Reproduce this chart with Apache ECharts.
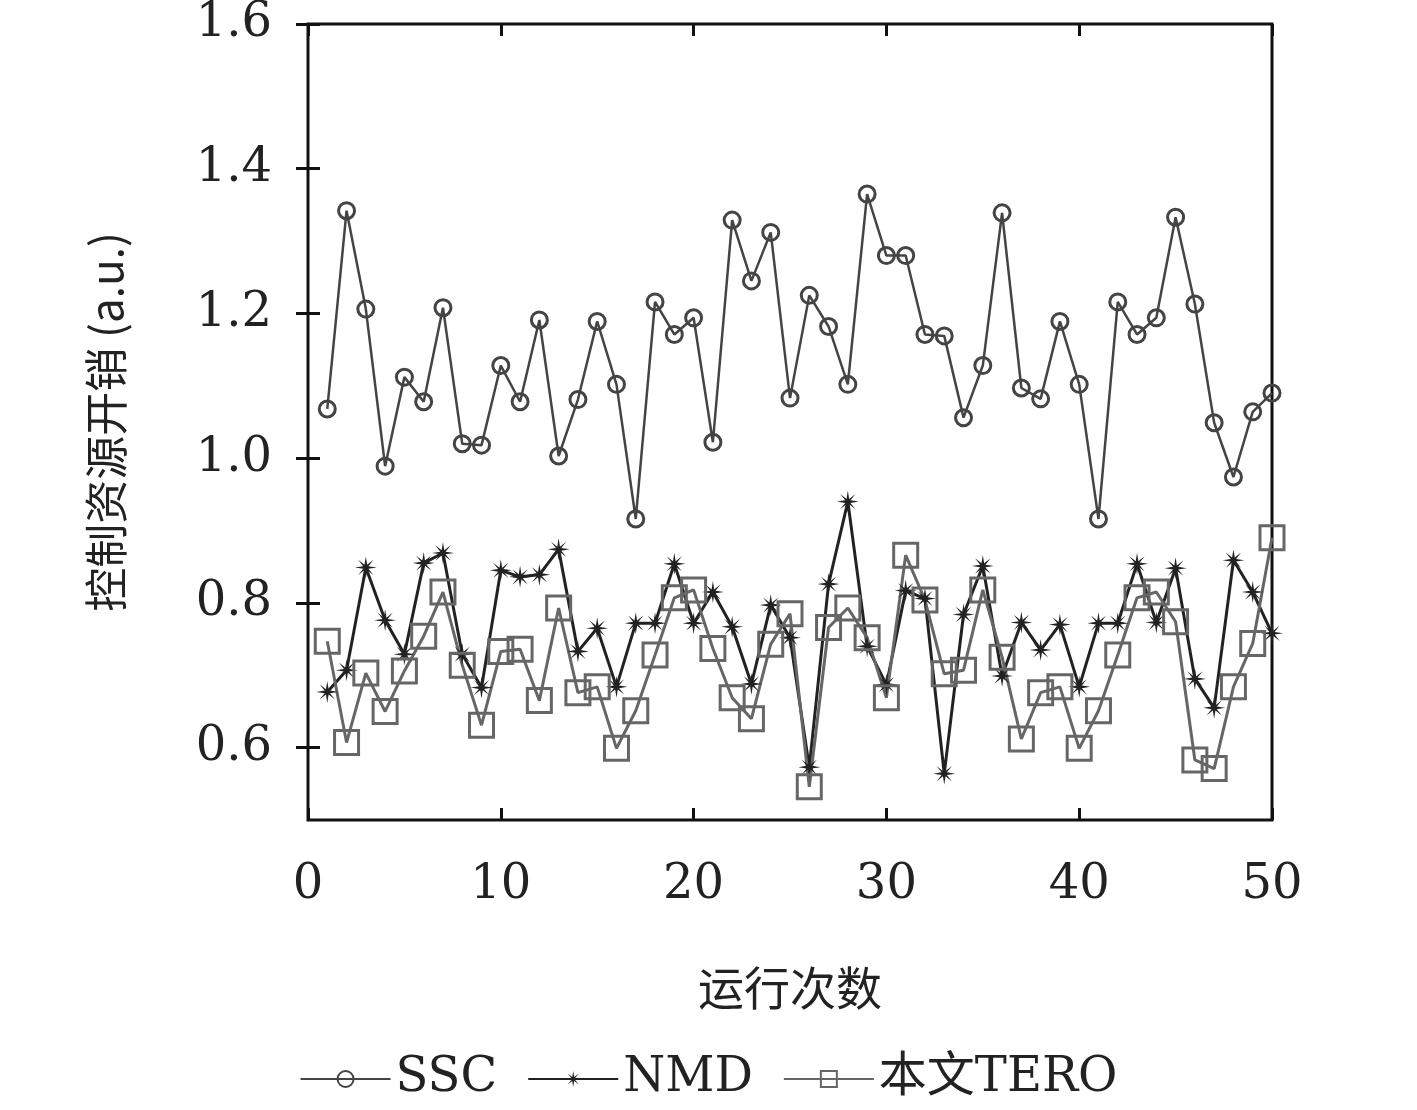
<!DOCTYPE html>
<html>
<head>
<meta charset="utf-8">
<script src="https://cdn.jsdelivr.net/npm/echarts@6/dist/echarts.min.js"></script>
<style>html,body{margin:0;background:#fff}#c{width:1417px;height:1110px}</style>
</head>
<body>
<div id="c"></div>
<script>
const runs = Array.from({length: 50}, (_, i) => i + 1);
const ssc = [1.068,1.342,1.206,0.989,1.112,1.078,1.208,1.020,1.018,1.128,1.078,1.191,1.003,1.081,1.189,1.102,0.916,1.216,1.171,1.194,
  1.022,1.329,1.245,1.312,1.083,1.225,1.182,1.102,1.365,1.280,1.280,1.171,1.169,1.056,1.128,1.339,1.097,1.082,1.189,1.102,
  0.916,1.216,1.171,1.194,1.333,1.213,1.049,0.974,1.064,1.090];
const nmd = [0.677,0.707,0.849,0.776,0.729,0.855,0.869,0.729,0.683,0.845,0.836,0.839,0.874,0.733,0.765,0.684,0.772,0.772,0.854,0.772,
  0.815,0.767,0.688,0.797,0.752,0.573,0.826,0.940,0.740,0.687,0.817,0.806,0.564,0.784,0.851,0.699,0.773,0.735,0.770,0.684,
  0.772,0.772,0.854,0.773,0.848,0.695,0.655,0.859,0.815,0.758];
const tero = [0.747,0.607,0.703,0.650,0.706,0.754,0.815,0.714,0.631,0.733,0.736,0.665,0.793,0.676,0.684,0.599,0.651,0.728,0.807,0.818,
  0.737,0.669,0.640,0.743,0.785,0.546,0.766,0.793,0.752,0.669,0.866,0.804,0.702,0.707,0.818,0.725,0.612,0.676,0.684,0.599,
  0.651,0.728,0.807,0.815,0.774,0.583,0.571,0.684,0.744,0.890];
const yTicks = [0.6, 0.8, 1.0, 1.2, 1.4, 1.6];

const serif = 'DejaVu Serif, Liberation Serif, serif';
const cjk = 'Noto Sans CJK SC';
const star = 'path://M50,0 L56,38 L85,15 L62,44 L100,50 L62,56 L85,85 L56,62 L50,100 L44,62 L15,85 L38,56 L0,50 L38,44 L15,15 L44,38 Z';

const pairs = arr => arr.map((v, i) => [runs[i], v]);
const tickStyle = {show: true, inside: true, length: 12, lineStyle: {color: '#111', width: 3}};

const chart = echarts.init(document.getElementById('c'));
chart.setOption({
  animation: false,
  grid: {left: 308, right: 145, top: 16, bottom: 290, show: true, borderColor: '#111', borderWidth: 3},
  xAxis: [{
    type: 'value', min: 0, max: 50, interval: 10,
    name: '运行次数', nameLocation: 'middle', nameGap: 145,
    nameTextStyle: {fontFamily: cjk, fontSize: 46, color: '#222'},
    axisLine: {show: false}, splitLine: {show: false},
    axisTick: tickStyle,
    axisLabel: {fontFamily: serif, fontSize: 48, color: '#222', margin: 42}
  }, {
    type: 'value', min: 0, max: 50, interval: 10, position: 'top',
    axisLine: {show: false}, splitLine: {show: false}, axisLabel: {show: false},
    axisTick: tickStyle
  }],
  yAxis: [{
    type: 'value', min: 0.5, max: 1.6,
    name: '控制资源开销 (a.u.)', nameLocation: 'middle', nameGap: 180,
    nameTextStyle: {fontFamily: cjk, fontSize: 44, color: '#222'},
    axisLine: {show: false}, splitLine: {show: false},
    axisTick: Object.assign({customValues: yTicks}, tickStyle),
    axisLabel: {customValues: yTicks, fontFamily: serif, fontSize: 48, color: '#222', margin: 36,
      formatter: v => v.toFixed(1)}
  }, {
    type: 'value', min: 0.5, max: 1.6, position: 'right',
    axisLine: {show: false}, splitLine: {show: false}, axisLabel: {show: false},
    axisTick: Object.assign({customValues: yTicks}, tickStyle)
  }],
  legend: {
    bottom: 2, left: 'center', itemWidth: 90, itemHeight: 20, itemGap: 30,
    textStyle: {fontFamily: serif + ', ' + cjk, fontSize: 48, color: '#222'}
  },
  series: [{
    name: 'SSC', type: 'line', data: pairs(ssc),
    symbol: 'circle', symbolSize: 16,
    lineStyle: {color: '#444', width: 2.5},
    itemStyle: {color: 'rgba(255,255,255,0)', borderColor: '#444', borderWidth: 3}
  }, {
    name: 'NMD', type: 'line', data: pairs(nmd),
    symbol: star, symbolSize: 22,
    lineStyle: {color: '#222', width: 3},
    itemStyle: {color: '#222'}
  }, {
    name: '本文TERO', type: 'line', data: pairs(tero),
    symbol: 'rect', symbolSize: 24,
    lineStyle: {color: '#666', width: 3},
    itemStyle: {color: 'rgba(255,255,255,0)', borderColor: '#666', borderWidth: 3}
  }]
});
</script>
</body>
</html>
